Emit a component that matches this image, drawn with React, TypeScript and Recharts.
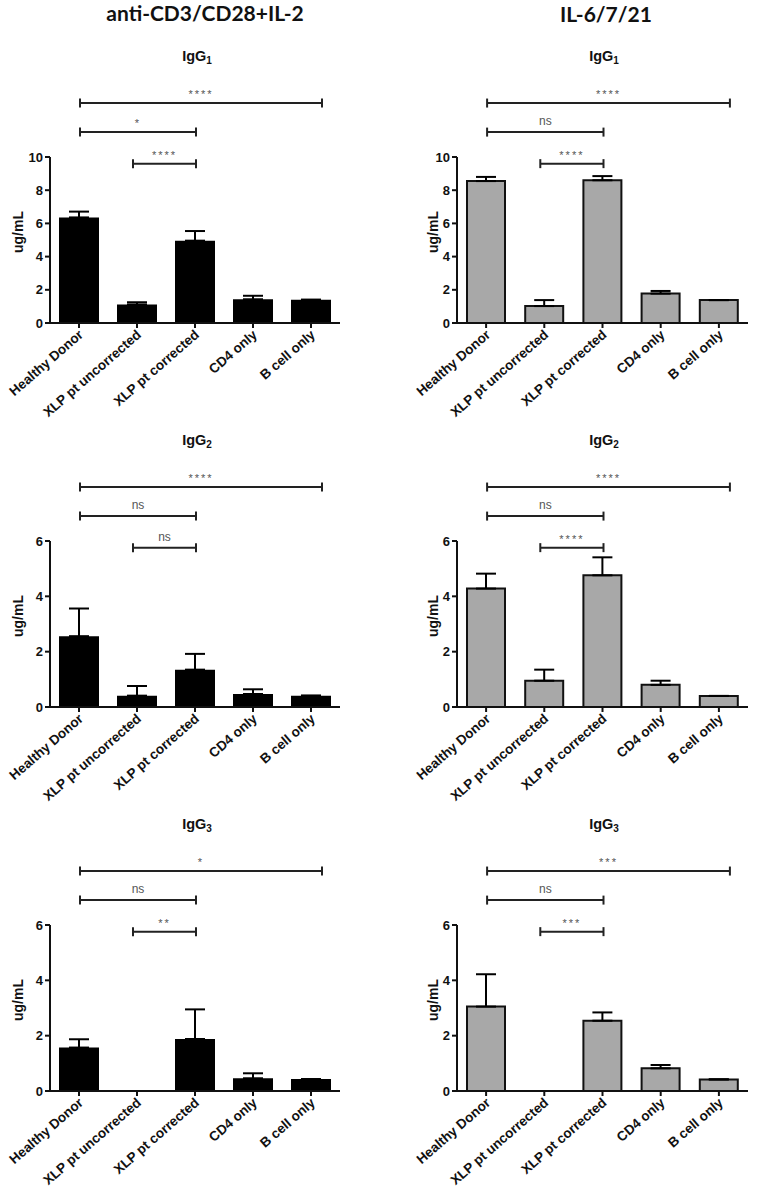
import React from 'react';
import { BarChart, Bar, XAxis, YAxis, ErrorBar, ReferenceLine } from 'recharts';

// ---------- data ----------
const categories = ['Healthy Donor', 'XLP pt uncorrected', 'XLP pt corrected', 'CD4 only', 'B cell only'];

// anti-CD3/CD28 + IL-2 (black bars)
const cdIgG1Mean = [6.36, 1.12, 4.96, 1.43, 1.4];
const cdIgG1Sem = [0.35, 0.13, 0.58, 0.21, 0];
const cdIgG2Mean = [2.56, 0.41, 1.35, 0.47, 0.41];
const cdIgG2Sem = [1.0, 0.35, 0.57, 0.17, 0];
const cdIgG3Mean = [1.57, 0, 1.88, 0.46, 0.43];
const cdIgG3Sem = [0.3, 0, 1.07, 0.18, 0];

// IL-6/7/21 (grey bars)
const ilIgG1Mean = [8.55, 1.02, 8.6, 1.77, 1.38];
const ilIgG1Sem = [0.25, 0.36, 0.25, 0.16, 0];
const ilIgG2Mean = [4.28, 0.95, 4.76, 0.8, 0.4];
const ilIgG2Sem = [0.54, 0.4, 0.65, 0.15, 0];
const ilIgG3Mean = [3.05, 0, 2.54, 0.82, 0.42];
const ilIgG3Sem = [1.17, 0, 0.3, 0.12, 0];

const ticks10 = [0, 2, 4, 6, 8, 10];
const ticks6 = [0, 2, 4, 6];

// significance labels: [HD vs B cell, HD vs XLP corrected, XLP uncorrected vs XLP corrected]
const cdIgG1Sig = ['****', '*', '****'];
const cdIgG2Sig = ['****', 'ns', 'ns'];
const cdIgG3Sig = ['*', 'ns', '**'];
const ilIgG1Sig = ['****', 'ns', '****'];
const ilIgG2Sig = ['****', 'ns', '****'];
const ilIgG3Sig = ['***', 'ns', '***'];

const columnTitles = ['anti-CD3/CD28+IL-2', 'IL-6/7/21'];
const rowSubscripts = ['1', '2', '3'];

// ---------- rendering ----------
const FONT = '"Liberation Sans", Arial, Helvetica, sans-serif';
const TITLE_FONT = 'Lato, "Open Sans", sans-serif';

function buildRows(mean: number[], sem: number[]) {
  return categories.map((c, i) => ({ name: c, value: mean[i], err: [0, sem[i]] }));
}

const XTick = (props: any) => {
  const { x, y, payload } = props;
  return (
    <g transform={`translate(${x + 5},${y + 8}) rotate(-41)`}>
      <text x={0} y={0} textAnchor="end" fontFamily={FONT} fontWeight={700} fontSize={13.5} fill="#111">
        {payload.value}
      </text>
    </g>
  );
};

const makeBracket = (label: string, dx1: number, dx2: number) => (props: any) => {
  const { x1, y1, x2 } = props;
  const a = x1 + dx1;
  const b = x2 + dx2;
  const isNs = label === 'ns';
  return (
    <g>
      <line x1={a} y1={y1} x2={b} y2={y1} stroke="#222" strokeWidth={2} />
      <line x1={a} y1={y1 - 4.5} x2={a} y2={y1 + 4.5} stroke="#222" strokeWidth={2} />
      <line x1={b} y1={y1 - 4.5} x2={b} y2={y1 + 4.5} stroke="#222" strokeWidth={2} />
      <text
        x={(a + b) / 2}
        y={isNs ? y1 - 7 : y1 - 5}
        textAnchor="middle"
        fontFamily={FONT}
        fontSize={isNs ? 12 : 11}
        letterSpacing={isNs ? 0 : 2}
        fill="#555"
      >
        {label}
      </text>
    </g>
  );
};

type PanelProps = {
  left: number;
  top: number;
  width: number;
  marginLeft: number;
  marginRight: number;
  labelDx: number;
  mean: number[];
  sem: number[];
  ticks: number[];
  sig: string[];
  grey: boolean;
};

function Panel(p: PanelProps) {
  const data = buildRows(p.mean, p.sem);
  const max = p.ticks[p.ticks.length - 1];
  const levels = [max * 1.325, max * 1.15, max * 0.96];
  return (
    <div style={{ position: 'absolute', left: p.left, top: p.top }}>
      <BarChart
        width={p.width}
        height={360}
        data={data}
        margin={{ top: 87, right: p.marginRight, bottom: 0, left: p.marginLeft }}
      >
        <XAxis
          dataKey="name"
          height={107}
          interval={0}
          tick={<XTick />}
          tickSize={5}
          tickMargin={0}
          axisLine={{ stroke: '#111', strokeWidth: 2 }}
          tickLine={{ stroke: '#111', strokeWidth: 2 }}
        />
        <YAxis
          width={40}
          domain={[0, max]}
          ticks={p.ticks}
          interval={0}
          tickSize={5}
          tickMargin={2}
          axisLine={{ stroke: '#111', strokeWidth: 2 }}
          tickLine={{ stroke: '#111', strokeWidth: 2 }}
          tick={{ fontFamily: FONT, fontWeight: 700, fontSize: 13, fill: '#111' }}
          label={{
            value: 'ug/mL',
            content: (lp: any) => {
              const vb = lp.viewBox || { x: 0, y: 0, width: 0, height: 0 };
              const cx = vb.x + p.labelDx;
              const cy = vb.y + vb.height / 2 - 8;
              return (
                <text
                  x={cx}
                  y={cy}
                  transform={`rotate(-90, ${cx}, ${cy})`}
                  textAnchor="middle"
                  dominantBaseline="central"
                  fontFamily={FONT}
                  fontWeight={700}
                  fontSize={14}
                  fill="#111"
                >
                  ug/mL
                </text>
              );
            },
          }}
        />
        <Bar
          dataKey="value"
          barSize={p.grey ? 38 : 40}
          fill={p.grey ? '#a8a8a8' : '#000'}
          stroke={p.grey ? '#111' : 'none'}
          strokeWidth={p.grey ? 2 : 0}
          isAnimationActive={false}
        >
          <ErrorBar dataKey="err" width={10} stroke="#000" strokeWidth={2} direction="y" />
        </Bar>
        <ReferenceLine
          ifOverflow="visible"
          segment={[{ x: categories[0], y: levels[0] }, { x: categories[4], y: levels[0] }]}
          shape={makeBracket(p.sig[0], 1, 11)}
        />
        <ReferenceLine
          ifOverflow="visible"
          segment={[{ x: categories[0], y: levels[1] }, { x: categories[2], y: levels[1] }]}
          shape={makeBracket(p.sig[1], 1, 1)}
        />
        <ReferenceLine
          ifOverflow="visible"
          segment={[{ x: categories[1], y: levels[2] }, { x: categories[2], y: levels[2] }]}
          shape={makeBracket(p.sig[2], -4, 1)}
        />
      </BarChart>
    </div>
  );
}

const rowTops = [0, 384, 768];

export default function App() {
  const leftCol = [
    { mean: cdIgG1Mean, sem: cdIgG1Sem, ticks: ticks10, sig: cdIgG1Sig },
    { mean: cdIgG2Mean, sem: cdIgG2Sem, ticks: ticks6, sig: cdIgG2Sig },
    { mean: cdIgG3Mean, sem: cdIgG3Sem, ticks: ticks6, sig: cdIgG3Sig },
  ];
  const rightCol = [
    { mean: ilIgG1Mean, sem: ilIgG1Sem, ticks: ticks10, sig: ilIgG1Sig },
    { mean: ilIgG2Mean, sem: ilIgG2Sem, ticks: ticks6, sig: ilIgG2Sig },
    { mean: ilIgG3Mean, sem: ilIgG3Sem, ticks: ticks6, sig: ilIgG3Sig },
  ];
  return (
    <div
      style={{
        position: 'absolute',
        left: 0,
        top: 0,
        width: 759,
        height: 1192,
        background: '#fff',
        overflow: 'hidden',
      }}
    >
      <svg width={759} height={1192} style={{ position: 'absolute', left: 0, top: 0 }}>
        <text x={205} y={21} textAnchor="middle" fontFamily={TITLE_FONT} fontWeight={700} fontSize={21} fill="#111">
          {columnTitles[0]}
        </text>
        <text x={606} y={22} textAnchor="middle" fontFamily={TITLE_FONT} fontWeight={700} fontSize={21} fill="#111">
          {columnTitles[1]}
        </text>
        {rowTops.map((rt, i) => (
          <React.Fragment key={i}>
            <text x={197} y={rt + 61} textAnchor="middle" fontFamily={FONT} fontWeight={700} fontSize={14.5} fill="#111">
              IgG
              <tspan fontSize={10} dy={3}>
                {rowSubscripts[i]}
              </tspan>
            </text>
            <text x={604} y={rt + 61} textAnchor="middle" fontFamily={FONT} fontWeight={700} fontSize={14.5} fill="#111">
              IgG
              <tspan fontSize={10} dy={3}>
                {rowSubscripts[i]}
              </tspan>
            </text>
          </React.Fragment>
        ))}
      </svg>
      {leftCol.map((c, i) => (
        <Panel
          key={'l' + i}
          left={0}
          top={rowTops[i] + 70}
          width={380}
          marginLeft={10}
          marginRight={40}
          labelDx={8}
          grey={false}
          {...c}
        />
      ))}
      {rightCol.map((c, i) => (
        <Panel
          key={'r' + i}
          left={380}
          top={rowTops[i] + 70}
          width={379}
          marginLeft={37}
          marginRight={11}
          labelDx={16}
          grey={true}
          {...c}
        />
      ))}
    </div>
  );
}
